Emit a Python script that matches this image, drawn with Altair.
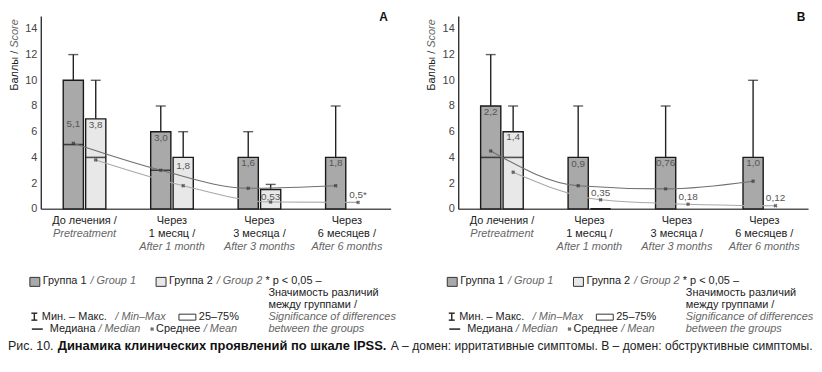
import altair as alt
import pandas as pd

FONT = "Liberation Sans, Arial, sans-serif"
CAP_FONT = "Liberation Sans, Arial, sans-serif"

categories = ["pre", "m1", "m3", "m6"]
groups = ["g1", "g2"]

x_line1 = ["До лечения /", "Через", "Через", "Через"]
x_line2 = ["", "1 месяц /", "3 месяца /", "6 месяцев /"]
x_english = ["Pretreatment", "After 1 month", "After 3 months", "After 6 months"]

y_ticks = [0, 2, 4, 6, 8, 10, 12, 14]

# ---- Panel A (irritative symptoms) ----
a_g1_q75 = [10, 6, 4, 4]
a_g1_max = [12, 8, 6, 8]
a_g1_median = [5, 3, None, None]
a_g1_mean = [5.1, 3.0, 1.6, 1.8]
a_g1_label = ["5,1", "3,0", "1,6", "1,8"]
a_g1_label_at = [6.6, 5.5, 3.55, 3.55]

a_g2_q75 = [7, 4, 1.5, None]
a_g2_max = [10, 6, 1.9, None]
a_g2_median = [4, None, None, None]
a_g2_mean = [3.8, 1.8, 0.53, 0.5]
a_g2_label = ["3,8", "1,8", "0,53", "0,5*"]
a_g2_label_at = [6.5, 3.3, 0.93, 1.08]

# ---- Panel B (obstructive symptoms) ----
b_g1_q75 = [8, 4, 4, 4]
b_g1_max = [12, 8, 8, 10]
b_g1_median = [4, None, None, None]
b_g1_mean = [4.5, 1.8, 1.55, 2.15]
b_g1_label = ["2,2", "0,9", "0,76", "1,0"]
b_g1_label_at = [7.5, 3.5, 3.55, 3.55]

b_g2_q75 = [6, 0, None, None]
b_g2_max = [8, None, None, None]
b_g2_median = [4, 0, None, None]
b_g2_mean = [2.85, 0.7, 0.36, 0.24]
b_g2_label = ["1,4", "0,35", "0,18", "0,12"]
b_g2_label_at = [5.55, 1.24, 0.93, 0.85]


def frame(g1, g2):
    rows = []
    for g, arrs in zip(groups, [g1, g2]):
        q75, mx, med, mean, lab, lab_at = arrs
        for i, c in enumerate(categories):
            rows.append(dict(cat=c, grp=g, q75=q75[i], mx=mx[i], med=med[i],
                             mean=mean[i], lab=lab[i], lab_at=lab_at[i]))
    return pd.DataFrame(rows)


df_a = frame([a_g1_q75, a_g1_max, a_g1_median, a_g1_mean, a_g1_label, a_g1_label_at],
             [a_g2_q75, a_g2_max, a_g2_median, a_g2_mean, a_g2_label, a_g2_label_at])
df_b = frame([b_g1_q75, b_g1_max, b_g1_median, b_g1_mean, b_g1_label, b_g1_label_at],
             [b_g2_q75, b_g2_max, b_g2_median, b_g2_mean, b_g2_label, b_g2_label_at])

df_x = pd.DataFrame({"cat": categories, "l1": x_line1, "l2": x_line2, "en": x_english})
ONE = pd.DataFrame({"k": [0]})

W, H = 352, 194
XS = alt.Scale(domain=categories, paddingInner=0, paddingOuter=0)
YS = alt.Scale(domain=[0, 15], nice=False, zero=True)
XA = alt.Axis(labels=False, ticks=False, title=None, domainColor="#555", domainWidth=1.5, grid=False)
YA = alt.Axis(values=y_ticks, ticks=False, grid=False, title=None, domainColor="#333",
              domainWidth=1.4, labelColor="#444", labelFontSize=11, labelFont=FONT, labelPadding=4)
XO = alt.XOffset("grp:N", sort=groups, scale=alt.Scale(domain=groups, paddingInner=0.1, paddingOuter=1))


def X():
    return alt.X("cat:N", sort=categories, scale=XS, axis=XA)


def Y(field):
    return alt.Y(field, scale=YS, axis=YA)


def txt(s, x, y, italic=False, color="#222", size=11, bold=False, font=FONT, align="left", angle=0):
    kw = dict(text=s, x=x, y=y, align=align, baseline="middle", fontSize=size, font=font,
              fontStyle="italic" if italic else "normal",
              fontWeight="bold" if bold else "normal", color=color)
    if angle:
        kw["angle"] = angle
    return alt.Chart(ONE).mark_text(**kw)


def rule(x, x2, y, y2, color="#222", width=1.4):
    return alt.Chart(ONE).mark_rule(color=color, strokeWidth=width).encode(
        x=alt.value(x), x2=alt.value(x2), y=alt.value(y), y2=alt.value(y2))


def rect(x, x2, y, y2, fill):
    return alt.Chart(ONE).mark_rect(fill=fill, stroke="#333", strokeWidth=1).encode(
        x=alt.value(x), x2=alt.value(x2), y=alt.value(y), y2=alt.value(y2))


def panel(df, letter, caption=False):
    base = alt.Chart(df)
    bars = base.transform_filter("isValid(datum.q75)").mark_bar(
        stroke="#1a1a1a", strokeWidth=1.4).encode(
        x=X(), xOffset=XO, y=Y("q75:Q"),
        fill=alt.Fill("grp:N", scale=alt.Scale(domain=groups, range=["#a9a9a9", "#e8e8e8"]),
                      legend=None))
    whisk = base.transform_filter("isValid(datum.mx)").mark_rule(
        color="#222", strokeWidth=1.4).encode(
        x=X(), xOffset=XO, y=Y("q75:Q"), y2="mx:Q")
    caps = base.transform_filter("isValid(datum.mx)").mark_tick(
        color="#222", thickness=1.4, size=10).encode(
        x=X(), xOffset=XO, y=Y("mx:Q"))
    meds = base.transform_filter("isValid(datum.med)").mark_tick(
        color="#111", thickness=1.6, size=20).encode(
        x=X(), xOffset=XO, y=Y("med:Q"))
    lines = base.mark_line(interpolate="monotone", strokeWidth=1.1).encode(
        x=X(), xOffset=XO, y=Y("mean:Q"),
        stroke=alt.Stroke("grp:N", scale=alt.Scale(domain=groups, range=["#707070", "#a8a8a8"]),
                          legend=None))
    pts = base.mark_point(shape="cross", angle=45, filled=True, size=16, color="#333").encode(
        x=X(), xOffset=XO, y=Y("mean:Q"))
    labs = base.mark_text(fontSize=10, color="#555", font=FONT, baseline="middle").encode(
        x=X(), xOffset=XO, y=Y("lab_at:Q"), text="lab:N")

    bx = alt.Chart(df_x)
    xl1 = bx.mark_text(baseline="middle", fontSize=11, font=FONT, color="#222", y=206).encode(
        x=X(), text="l1:N")
    xl2 = bx.transform_filter("datum.l2 != ''").mark_text(
        baseline="middle", fontSize=11, font=FONT, color="#222", y=219).encode(x=X(), text="l2:N")
    xen1 = bx.transform_filter("datum.l2 == ''").mark_text(
        baseline="middle", fontSize=11, font=FONT, color="#666", fontStyle="italic", y=219).encode(
        x=X(), text="en:N")
    xen2 = bx.transform_filter("datum.l2 != ''").mark_text(
        baseline="middle", fontSize=11, font=FONT, color="#666", fontStyle="italic", y=232).encode(
        x=X(), text="en:N")

    layers = [bars, whisk, caps, meds, lines, pts, labs, xl1, xl2, xen1, xen2,
              txt(letter, 345, 1, bold=True, size=12, font=CAP_FONT, align="center", color="#111"),
              txt("Баллы /", -26, 35, align="right", angle=270),
              txt("Score", -26, 32, italic=True, color="#666", align="left", angle=270),
              # legend
              rect(-11, -1, 263, 272, "#a9a9a9"),
              txt("Группа 1", 2, 267), txt("/ Group 1", 50, 267, italic=True, color="#666"),
              rect(116, 126, 263, 272, "#e8e8e8"),
              txt("Группа 2", 129, 267), txt("/ Group 2", 177, 267, italic=True, color="#666"),
              txt("* p < 0,05 –", 226, 267),
              txt("Значимость различий", 229, 279),
              txt("между группами /", 229, 291),
              txt("Significance of differences", 229, 303, italic=True, color="#666"),
              txt("between the groups", 229, 315, italic=True, color="#666"),
              rule(-6.5, -6.5, 299, 306), rule(-9.5, -3.5, 299, 299), rule(-9.5, -3.5, 306, 306),
              txt("Мин. – Макс.", 1, 303), txt("/ Min–Max", 75, 303, italic=True, color="#666"),
              rect(139, 156, 300, 306, "#ffffff"),
              txt("25–75%", 159, 303),
              rule(-9, 2, 315, 315, color="#111", width=1.4),
              txt("Медиана", 9, 315), txt("/ Median", 58, 315, italic=True, color="#666"),
              alt.Chart(ONE).mark_point(shape="cross", angle=45, filled=True, size=16,
                                        color="#333").encode(x=alt.value(112), y=alt.value(315)),
              txt("Среднее", 116, 315), txt("/ Mean", 164, 315, italic=True, color="#666"),
              ]
    if caption:
        layers += [
            txt("Рис. 10.", -33, 332, size=12.5, font=CAP_FONT, color="#222"),
            txt("Динамика клинических проявлений по шкале IPSS.", 17, 332, size=13,
                font=CAP_FONT, bold=True, color="#111"),
            txt("А – домен: ирритативные симптомы. В – домен: обструктивные симптомы.", 352, 332,
                size=12.2, font=CAP_FONT, color="#222"),
        ]
    return alt.layer(*layers).properties(width=W, height=H)


chart = alt.hconcat(panel(df_a, "A", caption=True), panel(df_b, "B"),
                    spacing=68, bounds="flush",
                    padding={"left": 0, "top": 2, "right": 0, "bottom": 0}
                    ).configure_view(stroke=None)

chart.save("out.html", embed_options={"renderer": "svg", "actions": False})
